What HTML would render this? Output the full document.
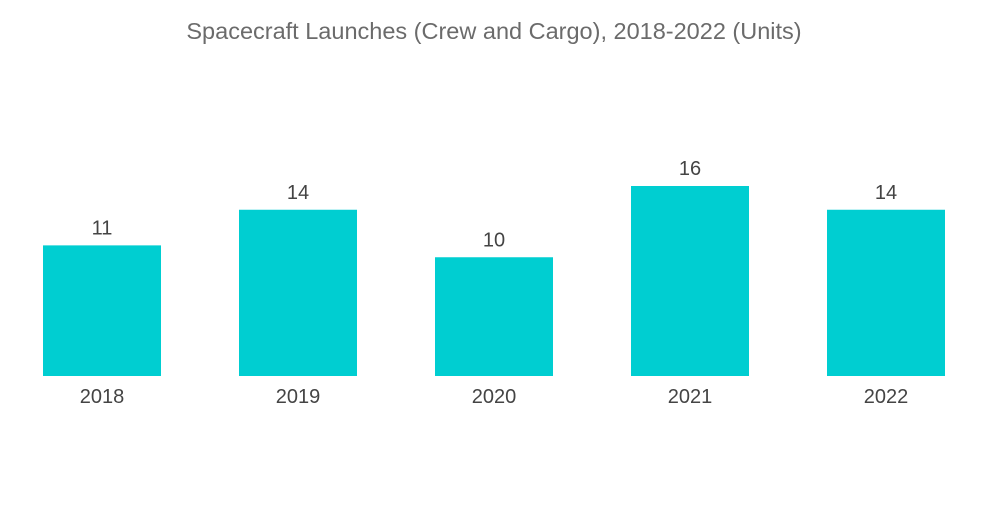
<!DOCTYPE html>
<html><head><meta charset="utf-8"><style>
body{margin:0;background:#fff;}
svg text{font-family:"Liberation Sans",sans-serif;}
</style></head><body>
<svg width="1000" height="504" viewBox="0 0 1000 504">
<text x="494" y="39" text-anchor="middle" font-size="23.5" fill="#6b6b6b">Spacecraft Launches (Crew and Cargo), 2018-2022 (Units)</text>
<g id="bars"></g>
</svg>
<script>
const categories=["2018","2019","2020","2021","2022"];
const values=[11,14,10,16,14];
const valueLabels=["11","14","10","16","14"];
const baseY=376, pxPerUnit=11.875, x0=102, step=196, bw=118;
const yScale=v=>baseY-v*pxPerUnit;
const xScale=i=>x0+i*step;
const g=document.getElementById('bars');
const ns='http://www.w3.org/2000/svg';
categories.forEach((c,i)=>{
  const r=document.createElementNS(ns,'rect');
  r.setAttribute('x',xScale(i)-bw/2);r.setAttribute('y',yScale(values[i]));
  r.setAttribute('width',bw);r.setAttribute('height',baseY-yScale(values[i]));
  r.setAttribute('fill','#00ced1');
  
  
  g.appendChild(r);
  const t=document.createElementNS(ns,'text');
  t.setAttribute('x',xScale(i));t.setAttribute('y',yScale(values[i])-11);
  t.setAttribute('text-anchor','middle');t.setAttribute('font-size','20');t.setAttribute('fill','#444');
  t.textContent=valueLabels[i];
  
  
  g.appendChild(t);
  const l=document.createElementNS(ns,'text');
  l.setAttribute('x',xScale(i));l.setAttribute('y',403);
  l.setAttribute('text-anchor','middle');l.setAttribute('font-size','20');l.setAttribute('fill','#444');
  l.textContent=c;
  
  
  g.appendChild(l);
});
</script>
</body></html>
